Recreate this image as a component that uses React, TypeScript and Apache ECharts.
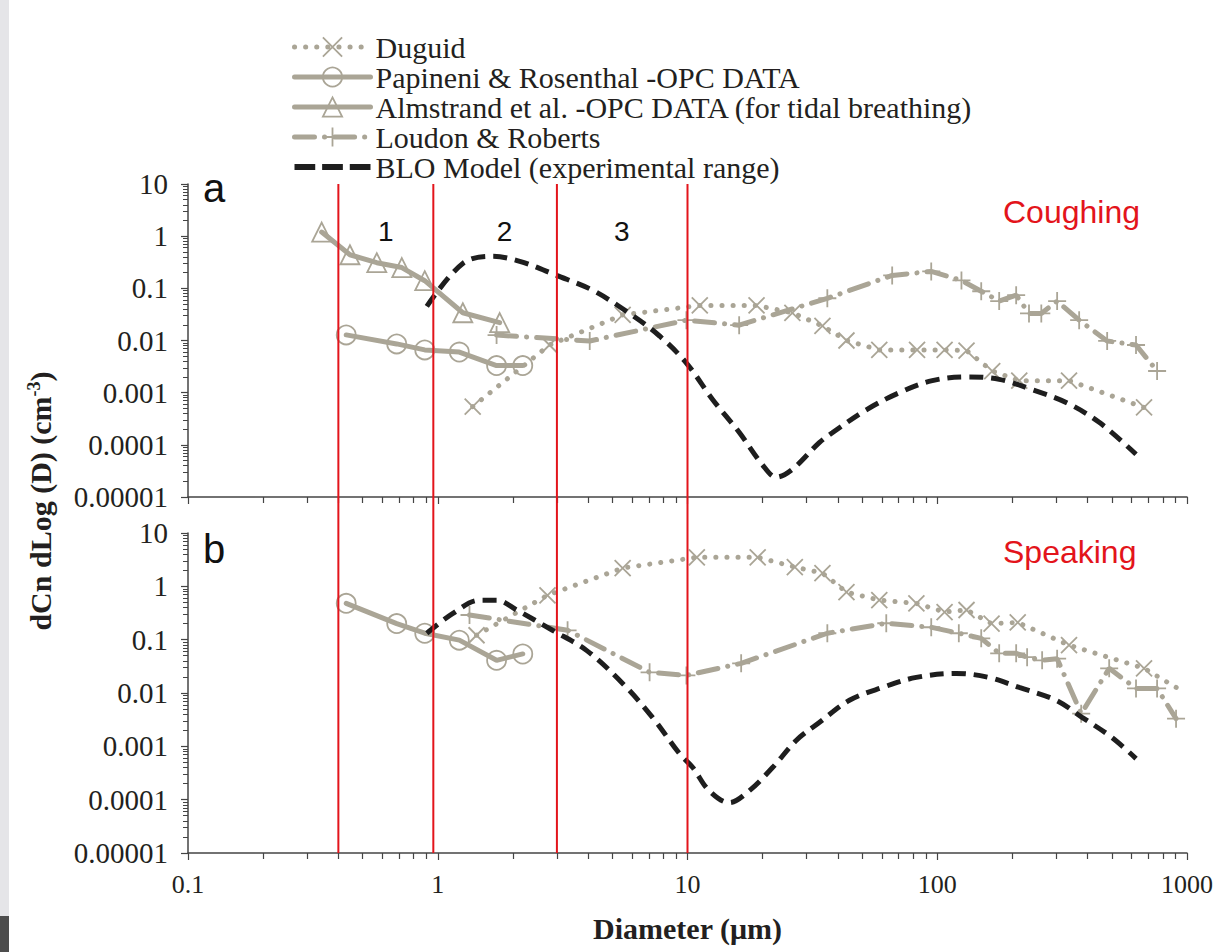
import React, { useEffect, useRef } from 'react';
import * as echarts from 'echarts';

// ---------- tick labels & names ----------
const xTickLabels = ['0.1', '1', '10', '100', '1000'];
const yTickLabels = ['0.00001', '0.0001', '0.001', '0.01', '0.1', '1', '10'];
const seriesNames = [
  'Duguid',
  'Papineni & Rosenthal -OPC DATA',
  'Almstrand et al. -OPC DATA (for tidal breathing)',
  'Loudon & Roberts',
  'BLO Model (experimental range)',
];
const panelLetters = ['a', 'b'];
const panelTitles = ['Coughing', 'Speaking'];
const regionBounds = [0.4, 0.96, 3, 10];
const regionLabels = ['1', '2', '3'];
const regionLabelD = [0.62, 1.85, 5.45];
const regionLabelN = 1.22;

// ---------- (a) Coughing ----------
const duguidCoughD = [1.38, 2.8, 5.5, 11.2, 18.9, 26.3, 34.7, 43.3, 58.6, 83, 107, 131, 166, 213, 337, 673];
const duguidCoughN = [0.00054, 0.0082, 0.031, 0.047, 0.047, 0.034, 0.019, 0.010, 0.0066, 0.0066, 0.0066, 0.0064, 0.0026, 0.0017, 0.0017, 0.00052];

const papCoughD = [0.43, 0.685, 0.887, 1.22, 1.72, 2.19];
const papCoughN = [0.0128, 0.0086, 0.0066, 0.006, 0.0033, 0.0033];

const almCoughD = [0.343, 0.445, 0.57, 0.718, 0.887, 1.26, 1.77];
const almCoughN = [1.2, 0.44, 0.31, 0.25, 0.14, 0.034, 0.022];

const loudCoughD = [1.72, 4.06, 9.9, 16.1, 36.3, 66, 94.6, 125, 150, 177, 207, 233, 261, 302, 370, 479, 625, 759];
const loudCoughN = [0.0127, 0.0098, 0.0245, 0.0197, 0.0645, 0.177, 0.211, 0.142, 0.088, 0.057, 0.074, 0.033, 0.033, 0.057, 0.0245, 0.0098, 0.0082, 0.0026];

const bloCoughD = [0.904, 1.26, 1.66, 2.13, 2.99, 4.17, 5.86, 7.73, 9.9, 12.6, 16.1, 20, 22.7, 26.3, 33.7, 38, 52, 70.5, 95.5, 131, 177, 240, 328, 445, 625];
const bloCoughN = [0.045, 0.3, 0.41, 0.33, 0.177, 0.092, 0.033, 0.0122, 0.0037, 0.00074, 0.000174, 0.000041, 0.000024, 0.000034, 0.00011, 0.00017, 0.00047, 0.001, 0.0017, 0.002, 0.0018, 0.00114, 0.00065, 0.00027, 0.000066];

// ---------- (b) Speaking ----------
const duguidSpeakD = [1.43, 2.75, 5.5, 10.9, 19.1, 26.9, 34.7, 43.3, 58.6, 82.5, 107, 131, 165, 210, 337, 673, 905];
const duguidSpeakN = [0.121, 0.68, 2.2, 3.5, 3.5, 2.3, 1.77, 0.78, 0.55, 0.48, 0.33, 0.36, 0.2, 0.21, 0.079, 0.029, 0.0127];

const papSpeakD = [0.43, 0.685, 0.887, 1.22, 1.72, 2.19];
const papSpeakN = [0.48, 0.2, 0.132, 0.098, 0.041, 0.054];

const loudSpeakD = [1.34, 3.31, 7.05, 9.9, 16.4, 36.3, 62.5, 94.6, 122, 150, 177, 207, 229, 263, 302, 377, 488, 625, 759, 904];
const loudSpeakN = [0.29, 0.15, 0.0244, 0.0214, 0.036, 0.132, 0.203, 0.171, 0.132, 0.106, 0.0555, 0.0555, 0.047, 0.041, 0.044, 0.0041, 0.029, 0.0122, 0.0122, 0.0033];

const bloSpeakD = [0.904, 1.15, 1.47, 1.72, 2.07, 2.88, 3.94, 5.5, 7.24, 9.29, 10.5, 12.2, 14.7, 17.7, 21.9, 27.3, 33.7, 44.5, 60.3, 82.4, 119, 161, 213, 299, 380, 501, 625];
const bloSpeakN = [0.132, 0.31, 0.55, 0.55, 0.36, 0.15, 0.063, 0.0151, 0.0035, 0.00073, 0.0004, 0.000148, 0.000088, 0.000148, 0.0004, 0.0013, 0.0028, 0.0073, 0.0127, 0.0196, 0.0233, 0.0196, 0.0127, 0.0073, 0.0035, 0.00146, 0.00059];

// ---------- styles ----------
const GRAY = '#aaa596';
const BLACK = '#1e1e1e';
const RED = '#e3141b';
const AXIS = '#444';
const TEXT = '#231f20';
const SERIF = 'Liberation Serif';
const SANS = 'Liberation Sans';
const CROSS = 'path://M0,0L10,10M10,0L0,10';
const PLUS = 'path://M5,0L5,10M0,5L10,5';
const DASH_ICON = 'path://M0,0h15v4.5h-15zM20,0h15v4.5h-15zM40,0h15v4.5h-15z';

const zip = (xs: number[], ys: number[]) => xs.map((x, i) => [x, ys[i]]);

function duguid(idx: number, xs: number[], ys: number[], lastPlain: boolean) {
  const data: any[] = zip(xs, ys);
  if (lastPlain) {
    const last = data.length - 1;
    data[last] = { value: data[last], symbol: 'none' };
  }
  return {
    name: seriesNames[0], type: 'line', xAxisIndex: idx, yAxisIndex: idx, data,
    symbol: CROSS, symbolSize: 16,
    lineStyle: { color: GRAY, width: 5, type: [0.1, 11], cap: 'round' },
    itemStyle: { color: 'transparent', borderColor: GRAY, borderWidth: 1.8 },
    emphasis: { disabled: true }, z: 2,
  };
}
function solid(nameIdx: number, idx: number, xs: number[], ys: number[], symbol: string) {
  return {
    name: seriesNames[nameIdx], type: 'line', xAxisIndex: idx, yAxisIndex: idx, data: zip(xs, ys),
    symbol, symbolSize: 19,
    lineStyle: { color: GRAY, width: 5, cap: 'round' },
    itemStyle: { color: 'transparent', borderColor: GRAY, borderWidth: 1.8 },
    emphasis: { disabled: true }, z: 2,
  };
}
function loudon(idx: number, xs: number[], ys: number[]) {
  return {
    name: seriesNames[3], type: 'line', xAxisIndex: idx, yAxisIndex: idx, data: zip(xs, ys),
    symbol: PLUS, symbolSize: 18,
    lineStyle: { color: GRAY, width: 5, type: [20, 10, 0.1, 10], cap: 'round' },
    itemStyle: { color: 'transparent', borderColor: GRAY, borderWidth: 1.8 },
    emphasis: { disabled: true }, z: 2,
  };
}
function blo(idx: number, xs: number[], ys: number[]) {
  return {
    name: seriesNames[4], type: 'line', xAxisIndex: idx, yAxisIndex: idx, data: zip(xs, ys),
    symbol: 'none', smooth: 0.35,
    lineStyle: { color: BLACK, width: 5, type: [14, 8] },
    itemStyle: { color: BLACK },
    emphasis: { disabled: true }, z: 3,
  };
}

const xAxis = (gridIndex: number, showLabels: boolean) => ({
  type: 'log', logBase: 10, gridIndex, min: 0.1, max: 1000,
  axisLine: { show: true, onZero: false, lineStyle: { color: AXIS, width: 1.5 } },
  axisTick: { show: true, length: 7, lineStyle: { color: AXIS, width: 1.2 } },
  minorTick: { show: true, splitNumber: 9, length: 6, lineStyle: { color: AXIS, width: 1.2 } },
  splitLine: { show: false },
  minorSplitLine: { show: false },
  axisLabel: {
    show: showLabels, margin: 18, fontFamily: SERIF, fontSize: 26, color: TEXT,
    formatter: (v: number) => xTickLabels[Math.round(Math.log10(v)) + 1],
  },
  ...(showLabels
    ? {
        name: 'Diameter (μm)', nameLocation: 'middle', nameGap: 60,
        nameTextStyle: { fontFamily: SERIF, fontWeight: 'bold', fontSize: 30, color: TEXT },
      }
    : {}),
});

const yAxis = (gridIndex: number) => ({
  type: 'log', logBase: 10, gridIndex, min: 0.00001, max: 10,
  axisLine: { show: true, onZero: false, lineStyle: { color: AXIS, width: 1.5 } },
  axisTick: { show: true, length: 7, lineStyle: { color: AXIS, width: 1.2 } },
  minorTick: { show: true, splitNumber: 9, length: 5, lineStyle: { color: AXIS, width: 1 } },
  splitLine: { show: false },
  minorSplitLine: { show: false },
  axisLabel: {
    margin: 20, fontFamily: SERIF, fontSize: 29, color: TEXT,
    formatter: (v: number) => yTickLabels[Math.round(Math.log10(v)) + 5],
  },
});

export default function App() {
  const ref = useRef<HTMLDivElement>(null);
  useEffect(() => {
    const chart = echarts.init(ref.current!, null, { renderer: 'svg', width: 1227, height: 952 });
    const option: any = {
      animation: false,
      backgroundColor: '#fff',
      grid: [
        { left: 188, top: 184, width: 999, height: 313 },
        { left: 188, top: 533, width: 999, height: 320 },
      ],
      xAxis: [xAxis(0, false), xAxis(1, true)],
      yAxis: [yAxis(0), yAxis(1)],
      legend: {
        orient: 'vertical', left: 287, top: 27,
        itemWidth: 76, itemHeight: 24, itemGap: 0,
        selectedMode: false,
        textStyle: { fontFamily: SERIF, fontSize: 30, lineHeight: 30, color: TEXT },
        lineStyle: { width: 5 },
        itemStyle: { borderWidth: 1.8 },
        data: [
          { name: seriesNames[0] },
          { name: seriesNames[1] },
          { name: seriesNames[2] },
          { name: seriesNames[3] },
          { name: seriesNames[4], icon: DASH_ICON },
        ],
      },
      series: [
        duguid(0, duguidCoughD, duguidCoughN, false),
        solid(1, 0, papCoughD, papCoughN, 'circle'),
        solid(2, 0, almCoughD, almCoughN, 'triangle'),
        loudon(0, loudCoughD, loudCoughN),
        blo(0, bloCoughD, bloCoughN),
        duguid(1, duguidSpeakD, duguidSpeakN, true),
        solid(1, 1, papSpeakD, papSpeakN, 'circle'),
        loudon(1, loudSpeakD, loudSpeakN),
        blo(1, bloSpeakD, bloSpeakN),
      ],
    };
    chart.setOption(option);

    const p = (g: number, x: number, y: number) => chart.convertToPixel({ gridIndex: g } as any, [x, y]) as number[];
    const graphic: any[] = [];
    // screenshot edge strip
    graphic.push({ type: 'rect', shape: { x: 0, y: 0, width: 9, height: 916 }, style: { fill: '#e5e5e8' }, silent: true });
    graphic.push({ type: 'rect', shape: { x: 0, y: 916, width: 9, height: 36 }, style: { fill: '#4d4d4d' }, silent: true });
    // red region lines
    regionBounds.forEach((d) => {
      const top = p(0, d, 10);
      const bot = p(1, d, 0.00001);
      graphic.push({
        type: 'line', z: 100,
        shape: { x1: top[0], y1: top[1], x2: bot[0], y2: bot[1] },
        style: { stroke: RED, lineWidth: 2 },
      });
    });
    // region numbers
    regionLabels.forEach((t, i) => {
      const c = p(0, regionLabelD[i], regionLabelN);
      graphic.push({
        type: 'text', x: c[0], y: c[1], z: 101,
        style: { text: t, font: `28px ${SANS}`, fill: '#111', align: 'center', verticalAlign: 'middle' },
      });
    });
    // panel letters & titles
    [0, 1].forEach((g) => {
      const corner = p(g, 0.1, 10);
      graphic.push({
        type: 'text', x: corner[0] + 15, y: corner[1] + 4 + g * 12, z: 101,
        style: { text: panelLetters[g], font: `40px ${SANS}`, fill: '#111', align: 'left', verticalAlign: 'middle' },
      });
      graphic.push({
        type: 'text', x: corner[0] + 815, y: corner[1] + 28 + g * -9, z: 101,
        style: { text: panelTitles[g], font: `32px ${SANS}`, fill: RED, align: 'left', verticalAlign: 'middle' },
      });
    });
    // y axis title
    graphic.push({
      type: 'text', x: 40, y: 501, rotation: Math.PI / 2, z: 101,
      style: {
        text: '{a|dCn dLog (D) (cm}{s|-3}{a|)}',
        align: 'center', verticalAlign: 'middle',
        rich: {
          a: { fontFamily: SERIF, fontWeight: 'bold', fontSize: 30, fill: TEXT },
          s: { fontFamily: SERIF, fontWeight: 'bold', fontSize: 18, fill: TEXT, verticalAlign: 'top' },
        },
      },
    });
    chart.setOption({ graphic });
    return () => chart.dispose();
  }, []);
  return (
    <div
      ref={ref}
      style={{ position: 'absolute', left: 0, top: 0, width: 1227, height: 952, background: '#fff' }}
    />
  );
}
